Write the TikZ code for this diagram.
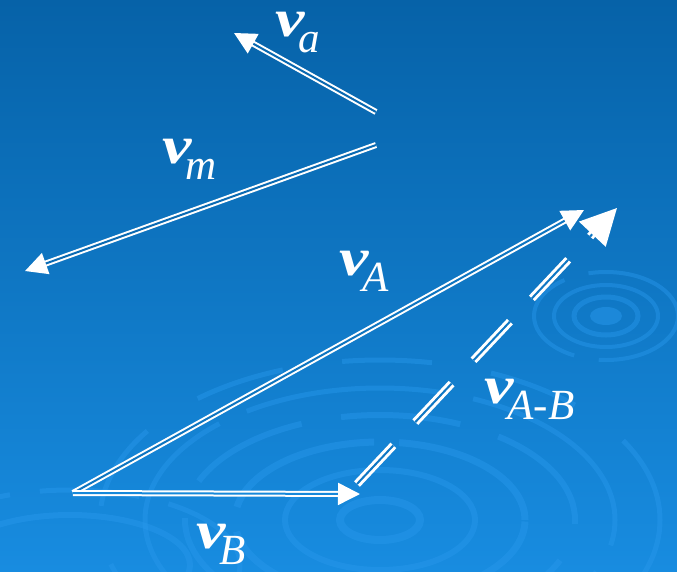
\documentclass[tikz,border=0pt]{standalone}
\usepackage{fontspec}
\setmainfont{Liberation Serif}
\usepackage{graphicx}
\usetikzlibrary{arrows.meta}
\definecolor{bgtop}{RGB}{6,98,168}
\definecolor{bgbot}{RGB}{24,140,224}
\definecolor{ripple}{RGB}{40,152,236}
\newcommand{\vlab}[1]{\itshape{\fontsize{53}{53}\selectfont\bfseries\scalebox{1.25}[1]{v}}\kern-6pt\raisebox{-16pt}{\fontsize{43}{43}\selectfont #1}}

\begin{document}
\begin{tikzpicture}[x=1pt,y=-1pt,
  vec/.style={draw=white, line width=2pt, double=#1, double distance=2pt,
              -{Triangle[length=22pt,width=22pt]}},
  dvec/.style={draw=white, line width=3pt, double=#1, double distance=2pt,
               dash pattern=on 53pt off 32pt,
               -{Triangle[length=36pt,width=36pt]}},
  lbl/.style={text=white, inner sep=0pt, anchor=base west},
  ring/.style={draw=ripple, opacity=0.45, line width=#1},
]
\shade[top color=bgtop, bottom color=bgbot] (0,0) rectangle (677,571);
\useasboundingbox (0,0) rectangle (677,571);

\draw[ring=8pt] (380,520) ellipse (40pt and 20pt);
\draw[ring=6pt] (380,520) ellipse (95pt and 50pt);
\draw[ring=7pt, dash pattern=on 160pt off 25pt] (380,520) ellipse (145pt and 78pt);
\draw[ring=6pt, dash pattern=on 120pt off 40pt] (380,520) ellipse (195pt and 105pt);
\draw[ring=5pt, dash pattern=on 200pt off 30pt] (380,520) ellipse (235pt and 132pt);
\draw[ring=5pt, dash pattern=on 90pt off 60pt] (380,520) ellipse (280pt and 160pt);
\draw[ring=6pt] (70,565) ellipse (120pt and 50pt);
\draw[ring=5pt, dash pattern=on 100pt off 30pt] (70,565) ellipse (170pt and 75pt);
\fill[ripple, opacity=0.5] (606,316) ellipse (16pt and 9pt);
\draw[ring=5pt] (606,316) ellipse (32pt and 19pt);
\draw[ring=4pt] (606,316) ellipse (52pt and 31pt);
\draw[ring=4pt, dash pattern=on 110pt off 25pt] (606,316) ellipse (72pt and 44pt);

\coordinate (a0) at (376,112);
\coordinate (a1) at (234,33);
\coordinate (m0) at (376,145);
\coordinate (m1) at (25,271);
\coordinate (o)  at (73,493);
\coordinate (A1) at (584,210);
\coordinate (B1) at (360,494);
\coordinate (D0) at (357,484);
\coordinate (D1) at (617,208);

\draw[vec={bgtop!85!bgbot}] (a0) -- (a1);
\draw[vec={bgtop!80!bgbot}] (m0) -- (m1);
\draw[vec={bgtop!55!bgbot}] (o) -- (A1);
\draw[vec={bgbot!90!bgtop}] (o) -- (B1);
\draw[dvec={bgtop!50!bgbot}] (D0) -- (D1);

\node[lbl] (la)  at (275,36)  {\vlab{a}};
\node[lbl] (lm)  at (162,163) {\vlab{m}};
\node[lbl] (lA)  at (339,275) {\vlab{A}};
\node[lbl] (lAB) at (484,403) {\vlab{A-B}};
\node[lbl] (lB)  at (196,548) {\vlab{B}};
\end{tikzpicture}
\end{document}
